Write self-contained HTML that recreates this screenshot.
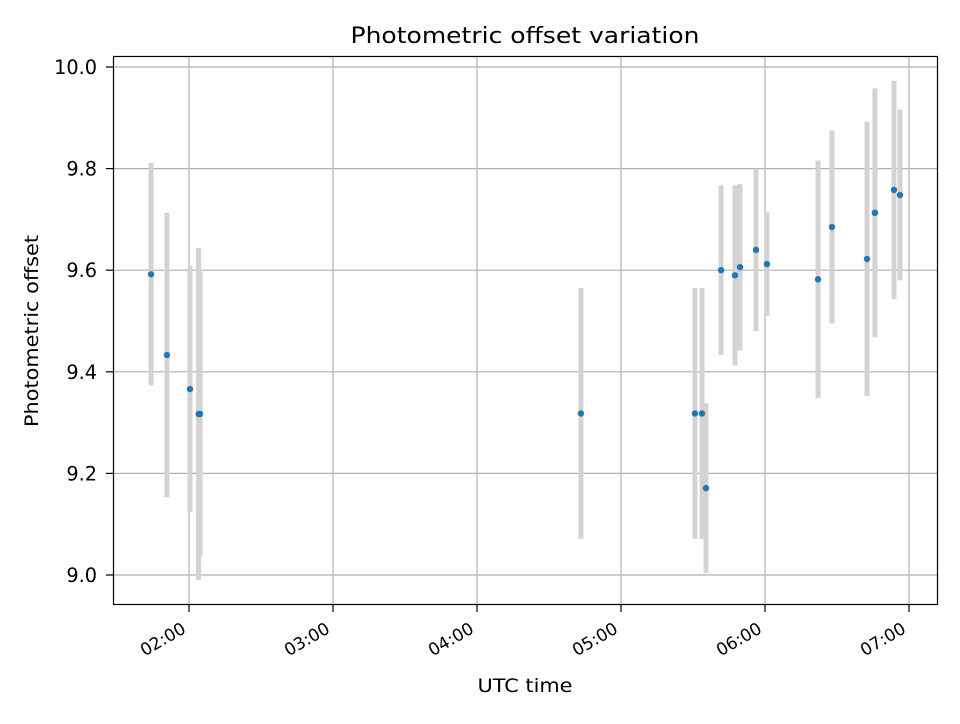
<!DOCTYPE html>
<html><head><meta charset="utf-8"><style>
body{margin:0;background:#fff;font-family:"DejaVu Sans","Liberation Sans",sans-serif}
svg text{font-family:"DejaVu Sans","Liberation Sans",sans-serif}
</style></head><body>
<svg id="chart" width="960" height="720" xmlns="http://www.w3.org/2000/svg">
<rect width="960" height="720" fill="#fff"/>
<g id="grid"></g><g id="bars"></g><g id="pts"></g>
<rect x="113.5" y="56.5" width="824" height="548" fill="none" stroke="#000" stroke-width="1.2"/>
<g id="ticks"></g>
<text x="525" y="43" text-anchor="middle" font-size="22" textLength="349" lengthAdjust="spacingAndGlyphs">Photometric offset variation</text>
<text x="525" y="692" text-anchor="middle" font-size="19" textLength="95" lengthAdjust="spacingAndGlyphs">UTC time</text>
<text transform="translate(38,331) rotate(-90)" text-anchor="middle" font-size="19" textLength="192" lengthAdjust="spacingAndGlyphs">Photometric offset</text>
</svg>
<script>
// time in minutes after 00:00 UTC
const times=[104.2,110.8,120.4,124,124.6,283.3,330.8,333.75,335.4,341.7,347.5,349.6,356.25,360.8,382.1,387.9,402.5,405.8,405.8,413.75,416.25];
const offsets=[9.592,9.433,9.366,9.317,9.317,9.318,9.318,9.318,9.171,9.600,9.590,9.606,9.640,9.612,9.582,9.685,9.622,9.713,9.713,9.758,9.748];
const errors=[0.219,0.28,0.242,0.327,0.28,0.247,0.247,0.247,0.167,0.167,0.177,0.164,0.16,0.102,0.234,0.19,0.27,0.245,0.24,0.215,0.168];
const yTicks=[9.0,9.2,9.4,9.6,9.8,10.0];
const yTickLabels=["9.0","9.2","9.4","9.6","9.8","10.0"];
const xTicks=[120,180,240,300,360,420];
const xTickLabels=["02:00","03:00","04:00","05:00","06:00","07:00"];
const X=t=>189+(t-120)*2.4;
const Y=v=>575-(v-9)*508;
const NS="http://www.w3.org/2000/svg";
function mk(tag,attrs,parent){const e=document.createElementNS(NS,tag);for(const k in attrs)e.setAttribute(k,attrs[k]);document.getElementById(parent).appendChild(e);return e;}
yTicks.forEach((v,i)=>{
  const g=mk('line',{x1:113,x2:938,y1:Y(v),y2:Y(v),stroke:'#b0b0b0','stroke-width':1.2},'grid');
  
  
  const t=mk('line',{x1:106,x2:113,y1:Y(v),y2:Y(v),stroke:'#000','stroke-width':1.2},'ticks');
  
  
  const l=mk('text',{x:97,y:Y(v)+7,'text-anchor':'end','font-size':19.3},'ticks');
  l.textContent=yTickLabels[i];
  
  
});
xTicks.forEach((v,i)=>{
  const g=mk('line',{x1:X(v),x2:X(v),y1:56,y2:605,stroke:'#b0b0b0','stroke-width':1.2},'grid');
  
  
  const t=mk('line',{x1:X(v),x2:X(v),y1:605,y2:612,stroke:'#000','stroke-width':1.2},'ticks');
  
  
  const l=mk('text',{x:0,y:0,'text-anchor':'end','font-size':17,transform:`translate(${X(v)-2},${632}) rotate(-30)`},'ticks');
  l.textContent=xTickLabels[i];
  
  
});
times.forEach((t,i)=>{
  const b=mk('line',{x1:X(t),x2:X(t),y1:Y(offsets[i]+errors[i]),y2:Y(offsets[i]-errors[i]),stroke:'#d3d3d3','stroke-width':5},'bars');
  
  
  const p=mk('circle',{cx:X(t),cy:Y(offsets[i]),r:3.2,fill:'#1f77b4'},'pts');
  
  
});
</script>
</body></html>
